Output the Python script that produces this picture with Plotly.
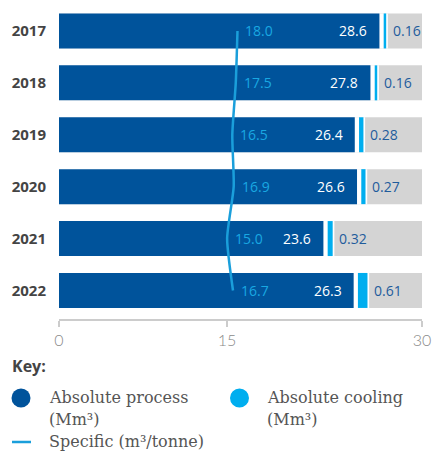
import plotly.graph_objects as go

# ---------------- data ----------------
years = ["2017", "2018", "2019", "2020", "2021", "2022"]
absolute_process = [28.6, 27.8, 26.4, 26.6, 23.6, 26.3]   # Mm3
absolute_cooling = [0.16, 0.16, 0.28, 0.27, 0.32, 0.61]   # Mm3
specific = [18.0, 17.5, 16.5, 16.9, 15.0, 16.7]           # m3/tonne
tick_labels = ["0", "15", "30"]

# ---------------- style ----------------
DARK = "#00539B"
COOL = "#00AEEF"
LINE = "#1A9FDB"
GRAY = "#D4D4D4"
TXT = "#444444"
KEYTXT = "#555555"

W, H = 433, 452
ML, MR, MT, MB = 59, 11, 5, 133
PLOT_BOTTOM = H - MB

AXIS_END = 32.4       # end of the grey track (labelled "30" in the original)
tick_values = [0, 15, AXIS_END]
COOL_SCALE = 1.4      # visual stretch of the thin cooling bars
GAP1 = 0.38           # white gap between process and cooling bars
GAP2 = 0.15           # white gap between cooling bar and grey track
BAR_W = 0.674

cool_len = [c * COOL_SCALE for c in absolute_cooling]
cool_base = [p + GAP1 for p in absolute_process]
sep_end = [b + c + GAP2 for b, c in zip(cool_base, cool_len)]

fig = go.Figure()
# grey track spanning the full scale
fig.add_bar(y=years, x=[AXIS_END] * len(years), orientation="h",
            marker=dict(color=GRAY, line=dict(width=0)),
            width=BAR_W, hoverinfo="skip", showlegend=False)
# white separator
fig.add_bar(y=years, x=sep_end, orientation="h",
            marker=dict(color="white", line=dict(width=0)), width=BAR_W,
            hoverinfo="skip", showlegend=False)
# cooling
fig.add_bar(y=years, x=cool_len, base=cool_base, orientation="h",
            marker=dict(color=COOL, line=dict(width=0)),
            width=BAR_W, name="Absolute cooling (Mm³)", showlegend=False)
# process
fig.add_bar(y=years, x=absolute_process, orientation="h",
            marker=dict(color=DARK, line=dict(width=0)), width=BAR_W,
            name="Absolute process (Mm³)", showlegend=False)
# specific line (own hidden scale)
fig.add_scatter(y=years, x=specific, xaxis="x2", yaxis="y", mode="lines",
                line=dict(color=LINE, width=2.5, shape="spline", smoothing=0.6),
                name="Specific (m³/tonne)", showlegend=False)

ann = []
for i, p in enumerate(absolute_process):
    ann.append(dict(xref="x", yref="y", x=p, y=i, text=f"{p:.1f}", showarrow=False,
                    xanchor="right", yanchor="middle", xshift=-10,
                    font=dict(family="Open Sans", size=14, color="white")))
for i, s in enumerate(specific):
    ann.append(dict(xref="x2", yref="y", x=s, y=i, text=f"{s:.1f}", showarrow=False,
                    xanchor="left", yanchor="middle", xshift=6,
                    font=dict(family="Open Sans", size=14, color="#19A8E2")))
for i, (e, c) in enumerate(zip(sep_end, absolute_cooling)):
    ann.append(dict(xref="x", yref="y", x=e, y=i, text=f"{c:.2f}", showarrow=False,
                    xanchor="left", yanchor="middle", xshift=3,
                    font=dict(family="Open Sans", size=14, color="#1F5C9C")))


def pa(text, px, py, size=16, family="DejaVu Serif", color=KEYTXT, weight="normal"):
    return dict(xref="paper", yref="paper", x=0, y=0, xshift=px - ML,
                yshift=PLOT_BOTTOM - py, text=text, showarrow=False,
                xanchor="left", yanchor="middle",
                font=dict(family=family, size=size, color=color, weight=weight))


ann.append(pa("Key:", 10, 366, size=16, family="Open Sans", color=TXT, weight="bold"))
ann.append(pa("Absolute process", 47, 397))
ann.append(pa("(Mm³)", 47, 419))
ann.append(pa("Absolute cooling", 265, 397))
ann.append(pa("(Mm³)", 265, 419))
ann.append(pa("Specific (m³/tonne)", 47, 441))


def circ(cx, cy, r, color):
    return dict(type="circle", xref="paper", yref="paper", xsizemode="pixel",
                ysizemode="pixel", xanchor=0, yanchor=0,
                x0=cx - ML - r, x1=cx - ML + r,
                y0=PLOT_BOTTOM - cy - r, y1=PLOT_BOTTOM - cy + r,
                fillcolor=color, line=dict(width=0))


shapes = [
    circ(21, 398, 9.5, DARK),
    circ(239.5, 398, 9.5, COOL),
    dict(type="line", xref="paper", yref="paper", xsizemode="pixel", ysizemode="pixel",
         xanchor=0, yanchor=0, x0=12 - ML, x1=31 - ML,
         y0=PLOT_BOTTOM - 442, y1=PLOT_BOTTOM - 442,
         line=dict(color=LINE, width=2.5)),
]

fig.update_layout(
    width=W, height=H, margin=dict(l=ML, r=MR, t=MT, b=MB, autoexpand=False),
    barmode="overlay", plot_bgcolor="white", paper_bgcolor="white",
    showlegend=False, hovermode=False,
    annotations=ann, shapes=shapes,
    xaxis=dict(range=[0, AXIS_END], tickvals=tick_values, ticktext=tick_labels,
               automargin=False,
               showline=True, linecolor="#CCCCCC", linewidth=1.5,
               ticks="outside", ticklen=6, tickcolor="#CCCCCC", tickwidth=1.5,
               showgrid=False, zeroline=False,
               tickfont=dict(family="Lato", size=16, color="#8A8A8A", weight=300)),
    xaxis2=dict(overlaying="x", range=[-33.75, 71.5], visible=False),
    yaxis=dict(type="category", categoryorder="array", categoryarray=years,
               range=[5.55, -0.5], automargin=False,
               showgrid=False, zeroline=False, showline=False, ticks="",
               ticklabelstandoff=12,
               tickfont=dict(family="Open Sans", size=15, color=TXT, weight="bold")),
)

fig.write_html("out.html", config={"displayModeBar": False},
               post_script="document.body.style.margin='0';document.body.style.padding='0';")
